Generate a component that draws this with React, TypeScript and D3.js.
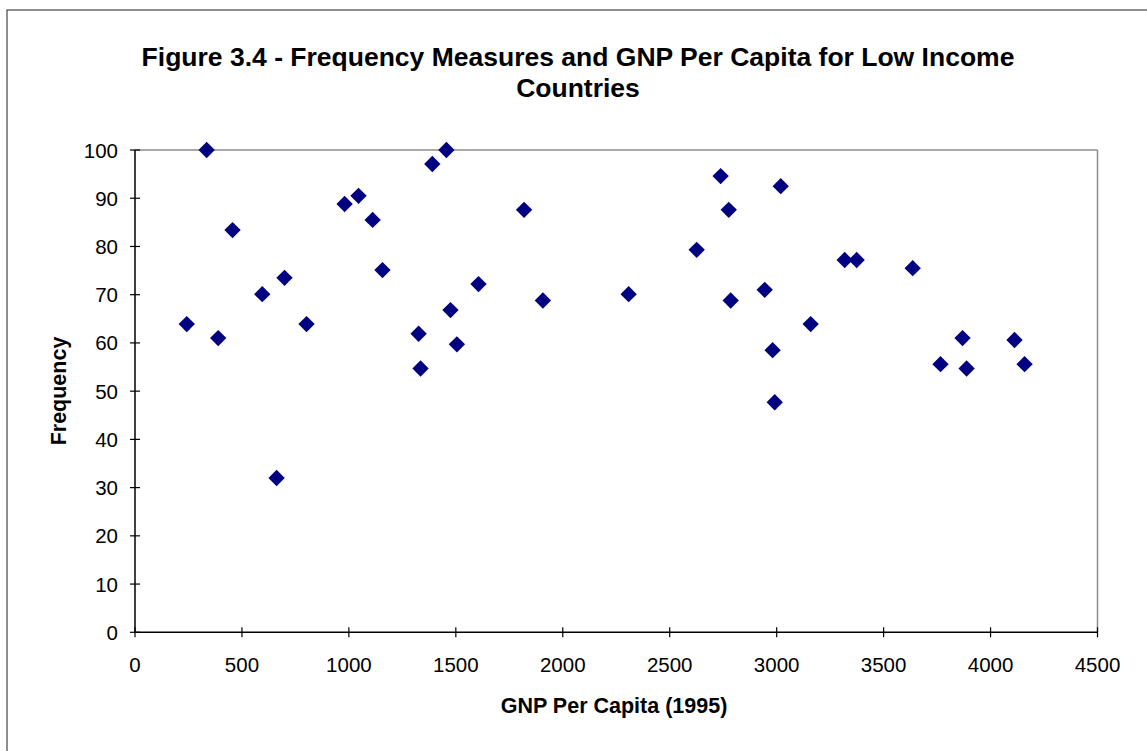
import React from "react";
import * as d3 from "d3";

const gnpPerCapita = [242, 335, 389, 456, 595, 662, 699, 802, 980, 1045, 1111, 1157, 1326, 1335, 1390, 1456, 1475, 1505, 1606, 1819, 1907, 2308, 2626, 2738, 2776, 2785, 2944, 2981, 2991, 3019, 3159, 3318, 3374, 3636, 3766, 3869, 3888, 4112, 4159];
const frequency = [63.9, 100, 61.0, 83.4, 70.1, 32.0, 73.5, 63.9, 88.8, 90.5, 85.5, 75.1, 61.9, 54.7, 97.1, 100, 66.8, 59.7, 72.2, 87.6, 68.8, 70.1, 79.3, 94.6, 87.6, 68.8, 71.0, 58.5, 47.7, 92.5, 63.9, 77.2, 77.2, 75.5, 55.6, 61.0, 54.7, 60.6, 55.6];
const xTicks = [0, 500, 1000, 1500, 2000, 2500, 3000, 3500, 4000, 4500];
const yTicks = [0, 10, 20, 30, 40, 50, 60, 70, 80, 90, 100];
const titleLines = ["Figure 3.4 - Frequency Measures and GNP Per Capita for Low Income", "Countries"];
const xTitle = "GNP Per Capita (1995)";
const yTitle = "Frequency";

export default function App() {
  const W = 1147, H = 751;
  const left = 135, right = 1097.5, top = 150, bottom = 632.3;
  const x = d3.scaleLinear().domain([0, 4500]).range([left, right]);
  const y = d3.scaleLinear().domain([0, 100]).range([bottom, top]);
  const font = "'Liberation Sans', Arial, sans-serif";
  const diamond = d3.symbol().type(d3.symbolDiamond2).size(170)();
  return (
    <svg width={W} height={H} style={{ position: "absolute", left: 0, top: 0, background: "#fff" }} fontFamily={font}>
      <rect x={0} y={0} width={W} height={H} fill="#fff" />
      <rect x={7} y={10} width={W + 20} height={H + 20} fill="none" stroke="#444" strokeWidth={1.2} />
      {titleLines.map((t, i) => (
        <text key={i} x={578} y={66 + i * 31} textAnchor="middle" fontSize={26.5} fontWeight="bold" fill="#000">{t}</text>
      ))}
      <line x1={left} x2={right} y1={top} y2={top} stroke="#8c8c8c" strokeWidth={1.5} />
      <line x1={right} x2={right} y1={top} y2={bottom} stroke="#8c8c8c" strokeWidth={1.5} />
      <line x1={left} x2={left} y1={top} y2={bottom} stroke="#000" strokeWidth={1.5} />
      <line x1={left} x2={right} y1={bottom} y2={bottom} stroke="#000" strokeWidth={1.5} />
      {yTicks.map((t) => (
        <g key={"y" + t}>
          <line x1={left - 5} x2={left + 5} y1={y(t)} y2={y(t)} stroke="#000" strokeWidth={1.2} />
          <text x={118} y={y(t) + 7.5} textAnchor="end" fontSize={20.5} fill="#000">{t}</text>
        </g>
      ))}
      {xTicks.map((t) => (
        <g key={"x" + t}>
          <line x1={x(t)} x2={x(t)} y1={bottom - 5} y2={bottom + 5} stroke="#000" strokeWidth={1.2} />
          <text x={x(t)} y={672} textAnchor="middle" fontSize={20.5} fill="#000">{t}</text>
        </g>
      ))}
      <text x={614} y={713} textAnchor="middle" fontSize={21.5} fontWeight="bold" fill="#000">{xTitle}</text>
      <text transform={`translate(66,391) rotate(-90)`} textAnchor="middle" fontSize={21.5} fontWeight="bold" fill="#000">{yTitle}</text>
      {gnpPerCapita.map((g, i) => (
        <path key={i} d={diamond as string} transform={`translate(${x(g)},${y(frequency[i])})`} fill="#000080" />
      ))}
    </svg>
  );
}
